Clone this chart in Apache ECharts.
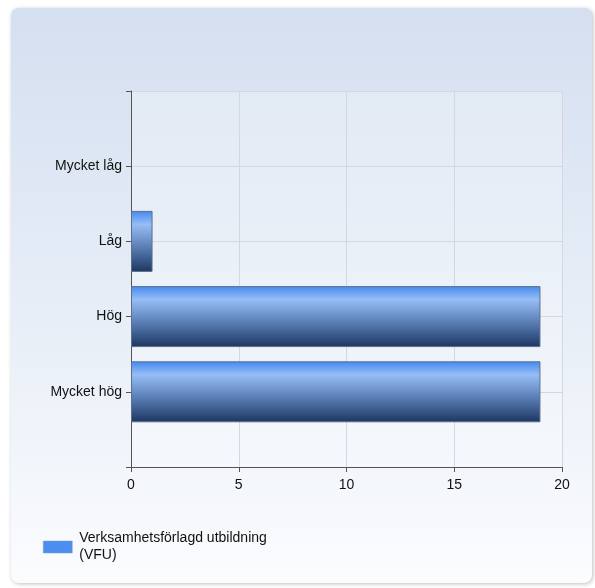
<!DOCTYPE html>
<html>
<head>
<meta charset="utf-8">
<script src="https://cdn.jsdelivr.net/npm/echarts@6/dist/echarts.min.js"></script>
<style>
html,body{margin:0;padding:0;background:#fff;}
#c{width:595px;height:588px;}
</style>
</head>
<body>
<div id="c"></div>
<script>
const categories = ['', 'Mycket låg', 'Låg', 'Hög', 'Mycket hög', ''];
const values = [null, 0, 1, 19, 19, null];
const seriesName = 'Verksamhetsförlagd utbildning (VFU)';
const legendLines = ['Verksamhetsförlagd utbildning', '(VFU)'];
const xTicks = [0, 5, 10, 15, 20];

const chart = echarts.init(document.getElementById('c'), null, {renderer: 'canvas'});
const font = 'Liberation Sans, Arial, sans-serif';
const barData = values.map(v => (v === 0 ? {value: 0, itemStyle: {borderWidth: 0, opacity: 0}} : v));
chart.setOption({
  animation: false,
  graphic: [{
    type: 'rect', z: -10, silent: true,
    shape: {x: 11, y: 8, width: 581, height: 575, r: 8},
    style: {
      fill: new echarts.graphic.LinearGradient(0, 0, 0, 1, [
        {offset: 0, color: '#d4dff0'},
        {offset: 0.6, color: '#eaf0f8'},
        {offset: 1, color: '#fbfcfe'}
      ]),
      shadowBlur: 4, shadowColor: 'rgba(0,0,0,0.25)', shadowOffsetX: 1, shadowOffsetY: 1
    }
  }],
  grid: {
    left: 131, right: 33, top: 91, bottom: 121,
    show: true, backgroundColor: 'rgba(255,255,255,0.25)', borderWidth: 0
  },
  legend: {
    left: 38, top: 525, orient: 'vertical', icon: 'rect',
    itemWidth: 29, itemHeight: 12, itemGap: 6,
    data: [{name: seriesName, itemStyle: {color: '#4a8ef0', borderColor: '#7f9cc8', borderWidth: 0.5}}],
    formatter: () => legendLines.join('\n'),
    textStyle: {fontFamily: font, fontSize: 14, color: '#111', lineHeight: 17, padding: [0, 0, 0, 2]}
  },
  xAxis: {
    type: 'value', min: 0, max: 20, interval: 5,
    axisLine: {show: true, lineStyle: {color: '#555', width: 1}},
    axisTick: {show: true, length: 5, lineStyle: {color: '#555'}},
    axisLabel: {fontFamily: font, fontSize: 14, color: '#111', margin: 11, formatter: v => String(v)},
    splitLine: {show: true, lineStyle: {color: '#d3d8e0', width: 1}}
  },
  yAxis: {
    type: 'category', data: categories, inverse: true, boundaryGap: false,
    axisLine: {show: true, lineStyle: {color: '#555', width: 1}},
    axisTick: {show: true, length: 5, lineStyle: {color: '#555'}},
    axisLabel: {fontFamily: font, fontSize: 14, color: '#111', margin: 9},
    splitLine: {show: true, lineStyle: {color: '#d3d8e0', width: 1}}
  },
  series: [{
    name: seriesName, type: 'bar', data: barData, barWidth: 61,
    itemStyle: {
      color: new echarts.graphic.LinearGradient(0, 0, 0, 1, [
        {offset: 0, color: '#4389ef'},
        {offset: 0.22, color: '#96bdf5'},
        {offset: 0.5, color: '#6a8fc6'},
        {offset: 0.8, color: '#3a5a8c'},
        {offset: 1, color: '#1d355f'}
      ]),
      borderColor: '#5d6f8c', borderWidth: 1
    }
  }]
});
</script>
</body>
</html>
